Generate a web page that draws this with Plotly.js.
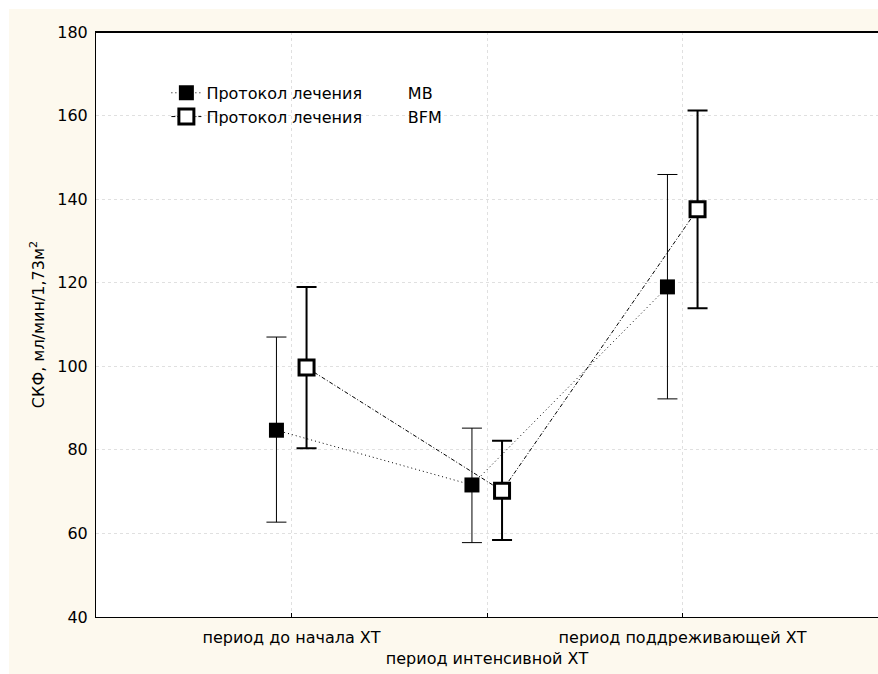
<!DOCTYPE html>
<html>
<head>
<meta charset="utf-8">
<script src="https://cdn.plot.ly/plotly-3.0.1.min.js"></script>
<style>html,body{margin:0;padding:0;background:#fff;}#chart{width:878px;height:674px;}</style>
</head>
<body>
<div id="chart"></div>
<script>
// ---- data ----
const categories = ["период до начала ХТ", "период интенсивной ХТ", "период поддреживающей ХТ"];
const mbMean  = [84.7, 71.6, 119.0];
const mbUpper = [107.0, 85.2, 145.9];
const mbLower = [62.7, 57.8, 92.2];
const bfmMean  = [99.7, 70.2, 137.6];
const bfmUpper = [119.0, 82.2, 161.2];
const bfmLower = [80.4, 58.4, 113.9];
const yTicks = [40, 60, 80, 100, 120, 140, 160, 180];
const seriesNames = ["Протокол лечения", "Протокол лечения"];
const seriesTags = ["MB", "BFM"];

// ---- styling / layout ----
const OFF = 0.077;
const catIdx = categories.map((c, i) => i);
const gap = "\u00A0".repeat(9);
const FONT = "DejaVu Sans, Arial, sans-serif";
const FS = 16;

const trMB = {
  type: "scatter", mode: "lines+markers",
  name: seriesNames[0] + gap + seriesTags[0],
  x: catIdx.map(i => i - OFF), y: mbMean,
  line: {color: "#000", width: 1, dash: "1px,3px"},
  marker: {symbol: "square", size: 15, color: "#000", line: {color: "#000", width: 0}},
  error_y: {type: "data", symmetric: false,
    array: mbUpper.map((u, i) => u - mbMean[i]),
    arrayminus: mbMean.map((m, i) => m - mbLower[i]),
    color: "#000", thickness: 1, width: 10}
};
const trBFM = {
  type: "scatter", mode: "lines+markers",
  name: seriesNames[1] + gap + seriesTags[1],
  x: catIdx.map(i => i + OFF), y: bfmMean,
  line: {color: "#000", width: 1, dash: "4px,2px,1px,2px"},
  marker: {symbol: "square", size: 15, color: "#fff", line: {color: "#000", width: 3}},
  error_y: {type: "data", symmetric: false,
    array: bfmUpper.map((u, i) => u - bfmMean[i]),
    arrayminus: bfmMean.map((m, i) => m - bfmLower[i]),
    color: "#000", thickness: 2, width: 10}
};

const ML = 96, MR = 0, MT = 32, MB_ = 57, W = 878, H = 674;
const pw = W - ML - MR, ph = H - MT - MB_;

const layout = {
  width: W, height: H,
  margin: {l: ML, r: MR, t: MT, b: MB_, pad: 0},
  paper_bgcolor: "#fff", plot_bgcolor: "#fff",
  font: {family: FONT, size: FS, color: "#000"},
  showlegend: true,
  legend: {x: 0.09, y: 0.925, xanchor: "left", yanchor: "top",
    bgcolor: "rgba(0,0,0,0)", font: {family: FONT, size: FS, color: "#000"},
    tracegroupgap: 0, itemwidth: 30},
  xaxis: {
    range: [-1, 3], tickmode: "array", tickvals: catIdx,
    ticktext: categories.map((c, i) => i === 1 ? "<br>" + c : c),
    tickangle: 0,
    showgrid: true, gridcolor: "#e0e0e0", griddash: "dot", gridwidth: 1,
    zeroline: false, showline: true, linecolor: "#000", linewidth: 1, mirror: true,
    ticks: "inside", ticklen: 4, tickcolor: "#000",
    ticklabelstandoff: 6,
    tickfont: {family: FONT, size: FS, color: "#000"}
  },
  yaxis: {
    range: [40, 180], tickmode: "array", tickvals: yTicks,
    showgrid: true, gridcolor: "#e0e0e0", griddash: "dot", gridwidth: 1,
    zeroline: false, showline: true, linecolor: "#000", linewidth: 1, mirror: true,
    ticks: "", ticklen: 0,
    ticklabelstandoff: 4,
    tickfont: {family: FONT, size: FS, color: "#000"},
    title: {text: "СКФ, мл/мин/1,73м<sup>2</sup>", font: {family: FONT, size: FS, color: "#000"}, standoff: 8}
  },
  shapes: [
    {type: "rect", xref: "paper", yref: "paper", layer: "below",
     x0: (9 - ML) / pw, x1: (W - ML) / pw,
     y0: -MB_ / ph - 0.01, y1: (H - MB_ - 9) / ph,
     fillcolor: "#fdf9ee", line: {width: 0}},
    {type: "rect", xref: "paper", yref: "paper", layer: "below",
     x0: 0, x1: 1, y0: 0, y1: 1, fillcolor: "#fff", line: {width: 0}},
    {type: "line", xref: "paper", yref: "paper", x0: 0, x1: 1, y0: 1, y1: 1,
     line: {color: "#000", width: 2}}
  ]
};

Plotly.newPlot("chart", [trMB, trBFM], layout, {displayModeBar: false, staticPlot: true});
</script>
</body>
</html>
